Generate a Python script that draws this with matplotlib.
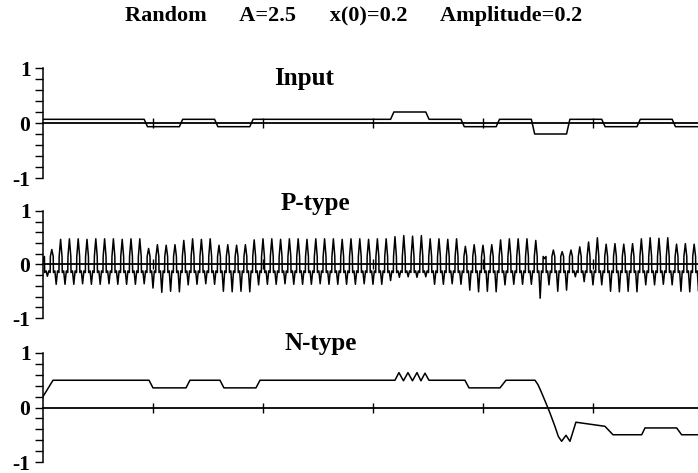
import matplotlib
matplotlib.use("Agg")
import matplotlib.pyplot as plt
from matplotlib.ticker import MultipleLocator

plt.rcParams["font.family"] = ["Liberation Serif", "DejaVu Serif"]
plt.rcParams["font.weight"] = "bold"

TITLE = "Random      A=2.5      x(0)=0.2      Amplitude=0.2"
PANEL_NAMES = ["Input", "P-type", "N-type"]

# input: piecewise-constant levels between edges (time steps)
INPUT_EDGES = [0, 29.5, 61.5, 93.5, 125.5, 157.5, 189.5, 221.5, 253.5, 285.5,
               317.5, 349.5, 381.5, 413.5, 445.5, 477.5, 509.5, 541.5, 573.5, 605.5]
INPUT_LEVELS = [0.067, 0.067, 0.067, -0.067, 0.067, -0.067, 0.067, 0.067, 0.067, 0.067,
                0.2, 0.067, -0.067, 0.067, -0.2, 0.067, -0.067, 0.067, -0.067]

# P-type: one peak and one trough per oscillation cycle (cycle length 8 steps)
P_CYCLE = 8
P_PEAKS = [0.06, 0.28, 0.47, 0.48, 0.48, 0.47, 0.48, 0.48, 0.48, 0.47, 0.48, 0.48,
           0.30, 0.37, 0.36, 0.37, 0.45, 0.48, 0.47, 0.48, 0.36, 0.37, 0.36, 0.37,
           0.46, 0.48, 0.48, 0.47, 0.48, 0.48, 0.47, 0.48, 0.48, 0.48, 0.47, 0.48,
           0.48, 0.47, 0.48, 0.48, 0.52, 0.54, 0.53, 0.54, 0.48, 0.48, 0.47, 0.48,
           0.34, 0.37, 0.36, 0.37, 0.46, 0.48, 0.48, 0.48, 0.45, 0.11, 0.27, 0.24,
           0.27, 0.33, 0.42, 0.50, 0.38, 0.39, 0.38, 0.39, 0.48, 0.50, 0.49, 0.50,
           0.38, 0.39, 0.38]
P_TROUGHS = [-0.22, -0.37, -0.37, -0.37, -0.36, -0.37, -0.37, -0.36, -0.37, -0.37, -0.37, -0.36,
             -0.44, -0.52, -0.50, -0.51, -0.38, -0.37, -0.36, -0.37, -0.50, -0.51, -0.50, -0.51,
             -0.38, -0.37, -0.37, -0.36, -0.37, -0.37, -0.37, -0.36, -0.37, -0.37, -0.37, -0.37,
             -0.36, -0.37, -0.37, -0.30, -0.24, -0.23, -0.24, -0.23, -0.37, -0.37, -0.36, -0.37,
             -0.48, -0.51, -0.50, -0.51, -0.38, -0.37, -0.37, -0.37, -0.63, -0.38, -0.50, -0.48,
             -0.23, -0.32, -0.38, -0.38, -0.50, -0.51, -0.50, -0.51, -0.38, -0.38, -0.37, -0.38,
             -0.50, -0.51, -0.50]
# shape of one cycle: time offsets from the peak and the level held there
# ("P" / "T" mark the peak and trough of that cycle)
P_SHAPE_T = [-1.3, 0, 1.3, 1.5, 2.8, 4, 5.2, 6.5]
P_SHAPE_Y = [0.15, "P", 0.15, -0.15, -0.12, "T", -0.12, -0.15]

# N-type trace points (time step, value)
N_T = [0, 9.1, 96.4, 100, 130, 133.6, 160.9, 164.5, 193.6, 197.3, 320,
       323.6, 327.7, 331.8, 335.9, 340, 343.6, 347.3, 350.9,
       383.6, 387.3, 415.5, 420.9, 447.3, 450, 452.7, 457.9, 460.9, 465.5,
       468.5, 471.5, 475.5, 479.1, 484.5, 510.9, 518.2, 544.3, 547.3,
       576.1, 580.6, 595.5]
N_Y = [0.2, 0.5, 0.5, 0.36, 0.36, 0.5, 0.5, 0.36, 0.36, 0.5, 0.5,
       0.64, 0.49, 0.64, 0.49, 0.64, 0.49, 0.63, 0.5,
       0.5, 0.36, 0.36, 0.5, 0.5, 0.42, 0.3, 0.05, -0.1, -0.35,
       -0.53, -0.62, -0.51, -0.62, -0.27, -0.345, -0.5, -0.5, -0.375,
       -0.375, -0.5, -0.5]

X_MAX = 595.5
X_TICKS = [100, 200, 300, 400, 500]
RAMP = 3.0

W, H = 698, 473
PANEL_PX = [(68, 178), (211, 318), (353, 462)]
NAME_POS = [(304, 85), (315, 210), (321, 350)]


def input_trace():
    t, y = [], []
    for i, lev in enumerate(INPUT_LEVELS):
        a = INPUT_EDGES[i] + (RAMP / 2 if i > 0 else 0)
        b = INPUT_EDGES[i + 1] - RAMP / 2
        t += [a, b]
        y += [lev, lev]
    return t, y


def ptype_trace():
    t, y = [], []
    for k, (pk, tr) in enumerate(zip(P_PEAKS, P_TROUGHS)):
        t0 = k * P_CYCLE
        for dt, lev in zip(P_SHAPE_T, P_SHAPE_Y):
            if t0 + dt < 0:
                continue
            t.append(t0 + dt)
            y.append(pk if lev == "P" else tr if lev == "T" else lev)
    return t, y


def style_axis(ax):
    ax.set_xlim(0, X_MAX)
    ax.set_ylim(-1, 1)
    for side in ["top", "right"]:
        ax.spines[side].set_visible(False)
    ax.spines["left"].set_linewidth(1.1)
    ax.spines["bottom"].set_position(("data", 0))
    ax.spines["bottom"].set_linewidth(1.3)
    ax.set_yticks([-1, 0, 1])
    ax.set_yticklabels(["-1", "0", "1"])
    ax.yaxis.set_minor_locator(MultipleLocator(0.2))
    ax.tick_params(axis="y", which="both", direction="out", length=6, width=1.0,
                   labelsize=15.5, pad=3)
    ax.set_xticks(X_TICKS)
    ax.tick_params(axis="x", direction="inout", length=7, width=1.0, labelbottom=False)
    for lab in ax.get_yticklabels():
        lab.set_fontweight("bold")


def main():
    fig = plt.figure(figsize=(W / 100, H / 100), dpi=100)
    traces = [input_trace(), ptype_trace(), (N_T, N_Y)]
    left = 43 / W
    for (top, bot), (t, y), name, (nx, ny) in zip(PANEL_PX, traces, PANEL_NAMES, NAME_POS):
        ax = fig.add_axes([left, 1 - bot / H, 1 - left, (bot - top) / H])
        ax.plot(t, y, color="black", lw=1.1)
        style_axis(ax)
        fig.text(nx / W, 1 - ny / H, name, ha="center", va="baseline",
                 fontsize=18, fontweight="bold")

    fig.text(354 / W, 1 - 21 / H, TITLE, ha="center", va="baseline",
             fontsize=16, fontweight="bold")
    fig.savefig("out.png", dpi=100)


if __name__ == "__main__":
    main()
